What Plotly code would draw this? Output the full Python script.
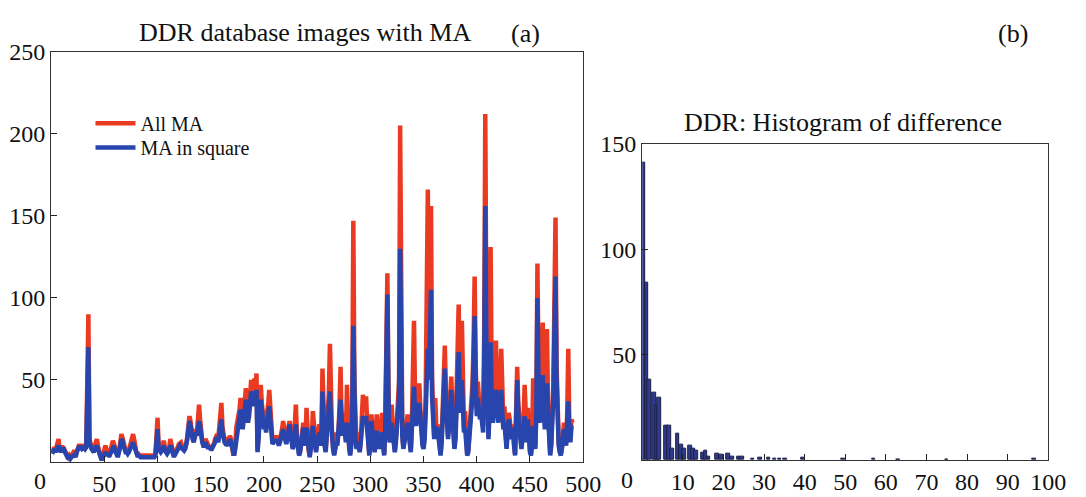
import plotly.graph_objects as go

# ---------------- data: panel (a) ----------------
image_index = list(range(1, 491))

ma_in_square = [
    5, 7, 8, 6, 9, 9, 10, 7, 6, 8,
    8, 8, 6, 4, 3, 2, 3, 2, 3, 4,
    4, 4, 3, 6, 8, 9, 9, 9, 8, 9,
    9, 8, 9, 40, 70, 12, 8, 8, 7, 6,
    8, 9, 10, 8, 5, 3, 2, 2, 4, 5,
    6, 5, 4, 4, 4, 6, 8, 10, 10, 7,
    5, 4, 4, 6, 10, 14, 13, 10, 7, 6,
    6, 5, 6, 8, 10, 12, 12, 10, 8, 5,
    4, 4, 3, 3, 3, 3, 3, 3, 3, 3,
    3, 3, 3, 3, 3, 3, 3, 4, 10, 20,
    8, 6, 6, 7, 9, 10, 7, 5, 5, 6,
    8, 10, 9, 6, 4, 4, 5, 6, 8, 9,
    10, 9, 8, 7, 7, 8, 10, 14, 20, 25,
    22, 15, 14, 12, 15, 18, 16, 20, 25, 22,
    14, 12, 10, 10, 12, 10, 9, 9, 8, 8,
    8, 9, 10, 12, 14, 15, 12, 16, 22, 26,
    18, 12, 12, 11, 11, 10, 12, 14, 12, 8,
    4, 4, 8, 14, 20, 25, 28, 32, 26, 20,
    26, 32, 38, 30, 24, 28, 38, 43, 40, 34,
    43, 36, 44, 6, 15, 28, 38, 32, 24, 20,
    23, 18, 24, 30, 34, 26, 18, 11, 12, 14,
    12, 14, 12, 10, 12, 14, 18, 20, 16, 12,
    11, 14, 18, 23, 18, 12, 8, 10, 15, 23,
    14, 8, 4, 6, 12, 16, 21, 14, 10, 21,
    12, 6, 3, 8, 14, 22, 15, 10, 6, 12,
    16, 18, 10, 14, 43, 20, 10, 6, 14, 28,
    36, 43, 26, 14, 8, 4, 8, 12, 10, 16,
    28, 38, 20, 16, 24, 18, 12, 24, 16, 8,
    4, 10, 30, 83, 40, 14, 8, 12, 10, 6,
    12, 22, 28, 24, 26, 28, 20, 10, 4, 14,
    25, 18, 10, 6, 12, 19, 14, 8, 12, 16,
    18, 10, 4, 20, 60, 102, 40, 12, 16, 24,
    18, 10, 6, 12, 20, 28, 40, 130, 50, 16,
    8, 12, 18, 22, 24, 18, 10, 6, 20, 36,
    46, 30, 22, 28, 32, 36, 28, 16, 10, 8,
    14, 30, 60, 69, 50, 80, 105, 40, 20, 14,
    22, 16, 21, 14, 8, 4, 12, 30, 44, 57,
    36, 20, 14, 22, 34, 44, 30, 18, 8, 14,
    30, 48, 67, 40, 30, 50, 26, 18, 21, 10,
    4, 6, 14, 22, 30, 40, 60, 89, 50, 28,
    39, 32, 26, 30, 24, 18, 60, 156, 70, 26,
    14, 30, 73, 40, 24, 30, 38, 44, 40, 24,
    30, 36, 44, 30, 20, 24, 14, 8, 18, 26,
    22, 14, 16, 21, 10, 4, 26, 50, 30, 18,
    14, 8, 14, 20, 28, 18, 12, 26, 14, 6,
    4, 10, 22, 14, 8, 30, 100, 50, 24, 30,
    40, 53, 30, 20, 26, 48, 28, 12, 4, 10,
    20, 40, 80, 113, 50, 20, 10, 6, 4, 8,
    14, 20, 16, 10, 24, 37, 18, 12, 22, 22,
]

all_ma = [
    6, 8, 9, 7, 10, 10, 14, 8, 7, 9,
    9, 8, 7, 5, 4, 3, 4, 3, 4, 5,
    6, 7, 4, 7, 9, 10, 10, 10, 9, 10,
    10, 9, 10, 50, 90, 14, 9, 9, 8, 7,
    10, 12, 14, 10, 6, 4, 3, 3, 5, 7,
    10, 8, 5, 5, 5, 7, 9, 13, 11, 8,
    6, 5, 5, 7, 12, 17, 15, 11, 8, 7,
    7, 6, 7, 9, 12, 15, 17, 14, 9, 6,
    5, 5, 4, 4, 4, 4, 4, 4, 4, 4,
    4, 4, 4, 4, 4, 4, 4, 5, 14, 27,
    10, 7, 7, 9, 11, 13, 8, 6, 6, 7,
    9, 14, 11, 7, 5, 5, 6, 7, 9, 11,
    12, 12, 10, 8, 8, 9, 11, 16, 24, 28,
    25, 17, 15, 13, 17, 20, 18, 24, 35, 26,
    16, 13, 12, 11, 14, 12, 10, 10, 9, 9,
    9, 10, 11, 14, 16, 17, 14, 20, 30, 36,
    22, 14, 13, 15, 12, 11, 13, 16, 14, 9,
    5, 5, 10, 21, 24, 28, 32, 39, 30, 24,
    30, 36, 45, 34, 27, 32, 44, 50, 46, 38,
    51, 42, 54, 7, 18, 32, 47, 36, 28, 23,
    26, 22, 31, 35, 44, 30, 22, 13, 14, 16,
    14, 16, 14, 12, 14, 16, 20, 25, 19, 14,
    13, 16, 22, 25, 21, 14, 9, 12, 20, 35,
    16, 9, 5, 7, 14, 18, 24, 16, 12, 33,
    14, 7, 4, 10, 16, 31, 19, 12, 7, 14,
    18, 23, 12, 16, 57, 24, 12, 7, 16, 32,
    42, 72, 30, 16, 9, 5, 9, 18, 12, 18,
    34, 58, 24, 18, 30, 22, 14, 47, 20, 9,
    5, 12, 36, 147, 48, 16, 9, 18, 12, 7,
    14, 30, 41, 32, 38, 40, 24, 12, 5, 16,
    29, 22, 12, 7, 14, 29, 17, 9, 14, 20,
    30, 12, 5, 24, 70, 115, 46, 14, 18, 35,
    22, 12, 7, 14, 26, 42, 50, 205, 62, 18,
    9, 14, 20, 26, 29, 20, 12, 7, 24, 50,
    86, 40, 26, 34, 40, 48, 32, 18, 13, 9,
    18, 40, 90, 166, 70, 120, 156, 50, 26, 16,
    39, 20, 23, 16, 9, 5, 14, 36, 56, 71,
    42, 24, 16, 26, 40, 52, 36, 20, 9, 16,
    38, 60, 96, 50, 36, 86, 32, 20, 31, 13,
    5, 7, 16, 26, 36, 48, 72, 113, 60, 32,
    49, 38, 30, 37, 28, 22, 80, 212, 90, 30,
    16, 40, 131, 50, 28, 36, 46, 74, 48, 28,
    36, 44, 69, 36, 24, 34, 16, 9, 22, 30,
    26, 16, 18, 23, 12, 5, 32, 58, 36, 20,
    20, 9, 16, 26, 47, 22, 14, 33, 17, 7,
    5, 12, 51, 18, 9, 36, 121, 60, 28, 36,
    48, 85, 36, 24, 30, 81, 34, 14, 5, 12,
    24, 48, 100, 149, 60, 24, 12, 7, 5, 9,
    16, 24, 20, 12, 30, 69, 22, 14, 26, 24,
]

# ---------------- data: panel (b) ----------------
diff_bin_centers = [0.3, 1.05, 1.75, 3.0, 3.65, 4.2, 5.9, 6.6, 7.35, 8.75,
                    9.55, 10.35, 11.8, 12.6, 13.3, 15.0, 15.6, 16.4, 18.5, 19.4,
                    21.2, 22.2, 23.8, 24.6, 27.2, 29.0, 31.2, 32.6, 33.8, 35.2,
                    39.5, 49.5, 57.0, 63.0, 75.0, 96.5]
diff_counts = [141, 84, 38, 32, 26, 29.5, 16.5, 16.5, 5.5, 12.4,
               7.4, 5.5, 7, 5.5, 4.5, 3.5, 4.5, 1.5, 3, 2.5,
               3, 1.5, 1.7, 1.7, 0.5, 1, 1, 0.5, 0.5, 0.5,
               1.2, 0.5, 0.6, 0.4, 0.4, 0.5]

a_xticks = [50, 100, 150, 200, 250, 300, 350, 400, 450, 500]
a_yticks = [50, 100, 150, 200, 250]
b_xticks = [10, 20, 30, 40, 50, 60, 70, 80, 90, 100]
b_yticks = [50, 100, 150]

# ---------------- figure ----------------
W, H = 1086, 497
FONT = "Liberation Serif"
RED = "#ea3b22"
BLUE = "#2845ad"

fig = go.Figure()
fig.add_trace(go.Scatter(x=image_index, y=all_ma, mode="lines", name="All MA",
                         line=dict(color=RED, width=4.5), xaxis="x", yaxis="y",
                         legend="legend"))
fig.add_trace(go.Scatter(x=image_index, y=ma_in_square, mode="lines", name="MA in square",
                         line=dict(color=BLUE, width=4.5), xaxis="x", yaxis="y",
                         legend="legend2"))
fig.add_trace(go.Bar(x=diff_bin_centers, y=diff_counts, width=0.85, showlegend=False,
                     marker=dict(color="#2e3a8c", line=dict(color="#1c1d45", width=1)),
                     xaxis="x2", yaxis="y2"))

def px_x(p):
    return p / W

def px_y(p):
    return 1 - p / H

axis_common = dict(showgrid=False, zeroline=False, showline=True, linecolor="#333333",
                   linewidth=1.3, mirror=True, ticks="inside", ticklen=6, tickwidth=1.2,
                   tickcolor="#222222", layer="above traces",
                   tickfont=dict(family=FONT, size=24, color="#111111"))

legend_common = dict(xanchor="left", yanchor="middle", bgcolor="rgba(0,0,0,0)",
                     font=dict(family=FONT, size=20, color="#111111"),
                     itemwidth=40, borderwidth=0)

fig.update_layout(
    width=W, height=H, margin=dict(l=0, r=0, t=0, b=0),
    paper_bgcolor="white", plot_bgcolor="white",
    showlegend=True, bargap=0,
    legend=dict(x=px_x(92), y=px_y(114), **legend_common),
    legend2=dict(x=px_x(92), y=px_y(139), **legend_common),
    xaxis=dict(domain=[px_x(52), px_x(593)], range=[0, 500], tickvals=a_xticks,
               anchor="y", **axis_common),
    yaxis=dict(domain=[px_y(464), px_y(40)], range=[0, 250], tickvals=a_yticks,
               anchor="x", **axis_common),
    xaxis2=dict(domain=[px_x(653), px_x(1066)], range=[0, 100], tickvals=b_xticks,
                anchor="y2", **axis_common),
    yaxis2=dict(domain=[px_y(462), px_y(135)], range=[0, 150], tickvals=b_yticks,
                anchor="x2", **axis_common),
)

ann_font = dict(family=FONT, size=26, color="#111111")
def label(text, x, y, font):
    fig.add_annotation(text=text, x=px_x(x), y=px_y(y), xref="paper", yref="paper",
                       xanchor="center", yanchor="middle", showarrow=False, font=font)

label("DDR database images with MA", 310, 20, ann_font)
label("(a)", 534, 21, ann_font)
label("(b)", 1030, 21, ann_font)
label("DDR: Histogram of difference", 857, 113, ann_font)
tick_font = dict(family=FONT, size=24, color="#111111")
label("0", 41, 484, tick_font)
label("0", 638, 483, tick_font)

fig.write_html("out.html", config={"displayModeBar": False},
               post_script="document.body.style.margin='0px';")
